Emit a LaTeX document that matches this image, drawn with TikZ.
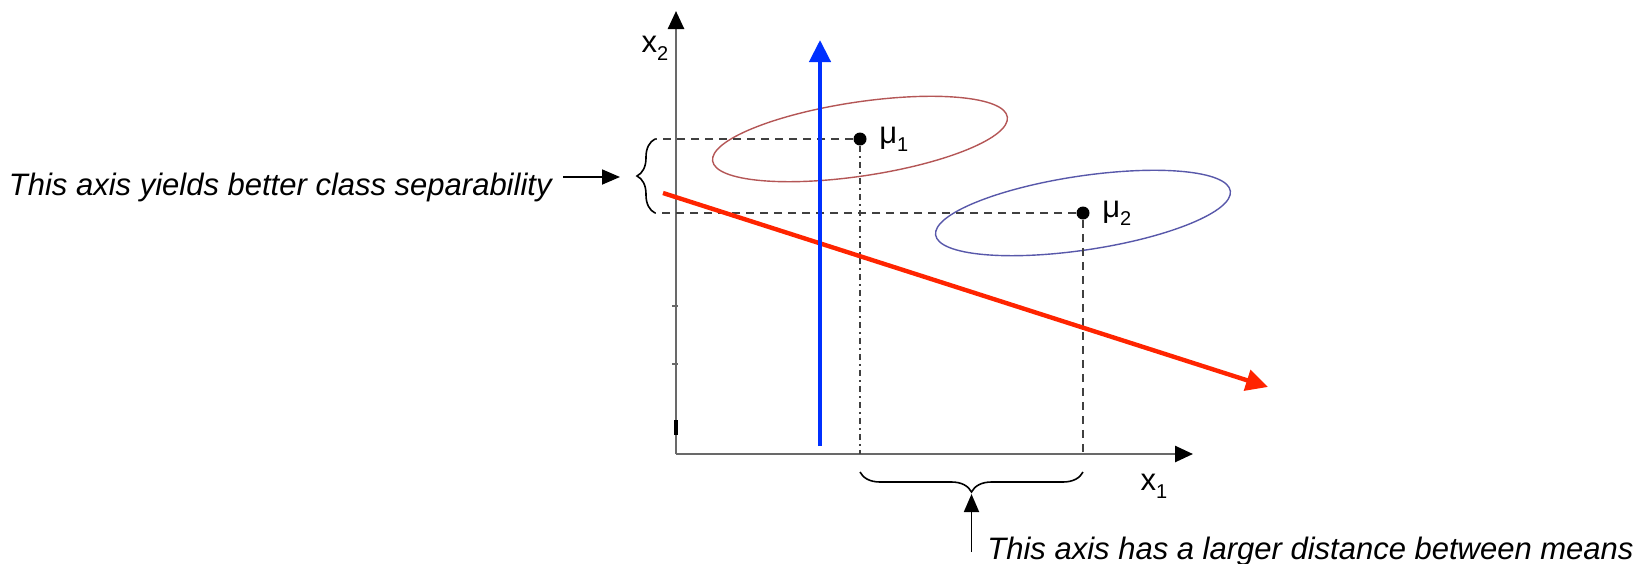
\documentclass[tikz,border=0pt]{standalone}
\usepackage{fontspec}
\setmainfont{Liberation Sans}
\usepackage{xcolor}
\usepackage{tikz}
\usetikzlibrary{arrows.meta, positioning, decorations.pathreplacing}

\definecolor{classone}{RGB}{180,86,86}
\definecolor{classtwo}{RGB}{88,88,170}
\definecolor{axisblue}{RGB}{0,48,255}
\definecolor{axisred}{RGB}{255,36,0}
\definecolor{axisgray}{RGB}{105,105,105}

\newcommand{\lowsub}[1]{\raisebox{-0.5ex}{\fontsize{10pt}{10pt}\selectfont #1}}

\begin{document}
\begin{tikzpicture}[
    x=0.5pt, y=-0.5pt,
    axis/.style={-{Triangle[length=9pt, width=8pt, color=black]}, axisgray, line width=1.3pt},
    projection/.style={-{Triangle[length=11pt, width=10.5pt]}, line width=2.2pt},
    guide/.style={dash pattern=on 4pt off 3pt, black!75, line width=0.7pt},
    classellipse/.style={line width=0.7pt},
    mean/.style={circle, fill=black, inner sep=0pt, minimum size=6.5pt},
    axislabel/.style={font=\fontsize{15.5pt}{18pt}\selectfont, inner sep=1pt},
    note/.style={font=\fontsize{15.5pt}{18pt}\selectfont\itshape, inner sep=0pt},
    bracket/.style={decorate, line width=0.8pt},
    arrow/.style={-{Triangle[length=9pt, width=7.5pt]}, line width=0.9pt}
]
\useasboundingbox (0,0) rectangle (1633,563);

\coordinate (origin) at (676,454);
\coordinate (ytip) at (676,11);
\coordinate (xtip) at (1193,454);

\draw [axis] (origin) -- (ytip);
\draw [axis] (origin) -- (xtip);
\foreach \ty in {306,364}
    \draw [axisgray, line width=0.8pt] (672,\ty) -- (678,\ty);
\draw [black, line width=1.6pt] (676,420) -- (676,435);

\node (x2label) [axislabel] at (655,48) {x\lowsub{2}};
\node (x1label) [axislabel] at (1154,486) {x\lowsub{1}};

\node (mu1) [mean] at (860,139) {};
\node (mu2) [mean] at (1083,213) {};
\node (mu1label) [axislabel, right=5pt of mu1] {μ\lowsub{1}};
\node (mu2label) [axislabel, right=5pt of mu2] {μ\lowsub{2}};

\draw [classellipse, classone, rotate around={8.5:(mu1)}] (mu1) ellipse [x radius=74.5pt, y radius=18.5pt];
\draw [classellipse, classtwo, rotate around={8.5:(mu2)}] (mu2) ellipse [x radius=74.5pt, y radius=18.5pt];

\coordinate (sepTop) at (655,139);
\coordinate (sepBottom) at (655,213);
\coordinate (sepTip) at (637,177);
\coordinate (distLeft) at (860,472);
\coordinate (distRight) at (1083,472);
\coordinate (distTip) at (971.5,494);
\coordinate (distTail) at (971.5,552);

\draw [guide] (mu1) -- (sepTop);
\draw [guide] (mu2) -- (sepBottom);
\draw [guide, dash pattern=on 3pt off 2pt on 1pt off 2pt] (mu1) -- (mu1 |- origin);
\draw [guide] (mu2) -- (mu2 |- origin);

\draw [bracket, decoration={brace, amplitude=9pt}] (sepBottom) -- (sepTop);
\draw [bracket, decoration={brace, mirror, amplitude=10pt}] (distLeft) -- (distRight);

\coordinate (redStart) at (663,193);
\coordinate (redEnd) at (1268,387);
\coordinate (blueStart) at (820,446);
\coordinate (blueEnd) at (820,40);
\draw [projection, axisred] (redStart) -- (redEnd);
\draw [projection, axisblue] (blueStart) -- (blueEnd);

\node (sepNote) [note, anchor=base east] at (552,195) {This axis yields better class separability};
\node (distNote) [note, anchor=base west] at (987,559) {This axis has a larger distance between means};

\draw [arrow, shorten <=5.5pt, shorten >=8.5pt] (sepNote.east |- sepTip) -- (sepTip);
\draw [arrow] (distTail) -- (distTip);

\end{tikzpicture}
\end{document}
